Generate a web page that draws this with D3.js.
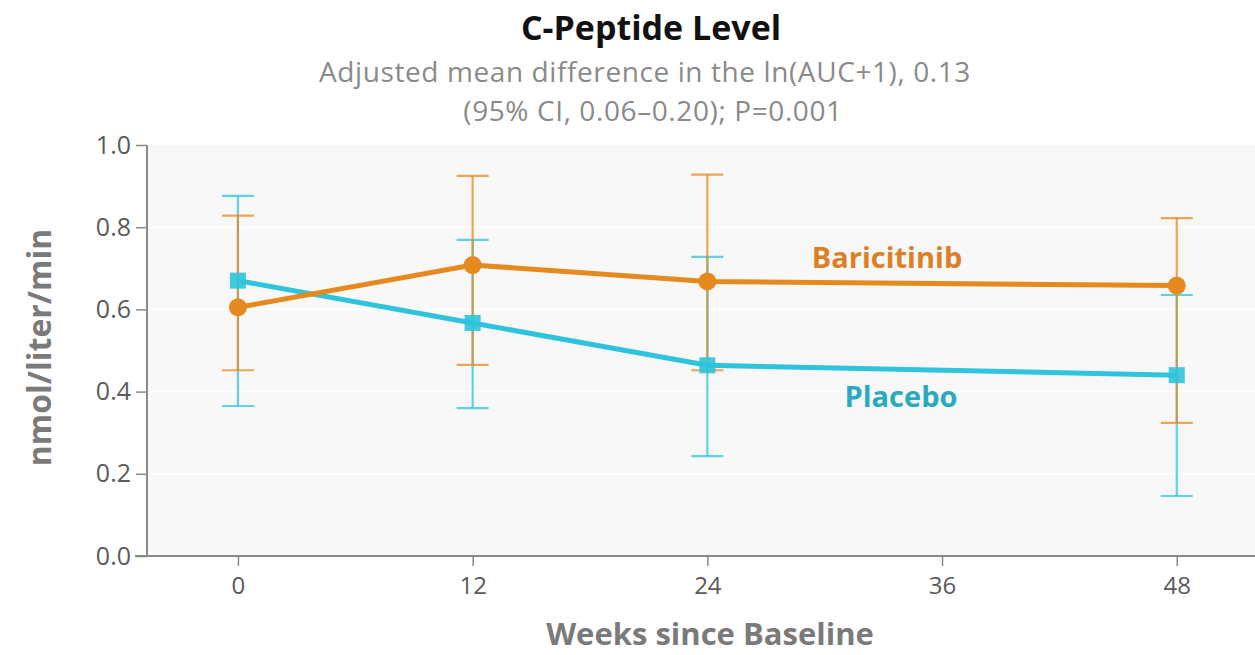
<!DOCTYPE html>
<html>
<head>
<meta charset="utf-8">
<script src="https://cdn.jsdelivr.net/npm/d3@7"></script>
<style>
  html, body { margin: 0; padding: 0; background: #fff; }
  svg { display: block; font-family: "Open Sans", Lato, sans-serif; }
</style>
</head>
<body>
<svg id="chart" width="1255" height="655"></svg>
<script>
// Visits (weeks since baseline)
const weeks = [0, 12, 24, 48];
const xTicks = [0, 12, 24, 36, 48];
const yTicks = [0, 0.2, 0.4, 0.6, 0.8, 1.0];

// C-peptide AUC, nmol/liter/min: mean with 95% CI
const bariMean = [0.605, 0.708, 0.668, 0.658];
const bariLow  = [0.452, 0.465, 0.452, 0.324];
const bariHigh = [0.828, 0.925, 0.928, 0.822];

const placMean = [0.670, 0.567, 0.464, 0.440];
const placLow  = [0.365, 0.360, 0.243, 0.146];
const placHigh = [0.876, 0.769, 0.728, 0.635];

const title = "C-Peptide Level";
const subtitle = ["Adjusted mean difference in the ln(AUC+1), 0.13", "(95% CI, 0.06\u20130.20); P=0.001"];
const yLabel = "nmol/liter/min";
const xLabel = "Weeks since Baseline";

const orange = "#e6891f";
const cyan = "#2fc3dc";

const svg = d3.select("#chart");
const plotL = 147, plotR = 1255, plotT = 145, plotB = 556;

const x = d3.scaleLinear().domain([-4.65, 52]).range([plotL, plotR]);
const y = d3.scaleLinear().domain([0, 1]).range([plotB, plotT]);

// plot background and faint gridlines
svg.append("rect")
  .attr("x", plotL).attr("y", plotT)
  .attr("width", plotR - plotL).attr("height", plotB - plotT)
  .attr("fill", "#f8f8f8");
svg.append("g").selectAll("line")
  .data(yTicks.filter(d => d > 0 && d < 1))
  .join("line")
  .attr("x1", plotL + 4).attr("x2", plotR)
  .attr("y1", d => y(d)).attr("y2", d => y(d))
  .attr("stroke", "#ffffff").attr("stroke-width", 2);

// axes
const yAxis = d3.axisLeft(y).tickValues(yTicks).tickFormat(d3.format(".1f")).tickSize(11).tickPadding(5);
const gy = svg.append("g").attr("transform", `translate(${plotL},0)`).call(yAxis);
gy.select(".domain").attr("stroke", "#8a8a8a").attr("stroke-width", 2).attr("d", `M0,${plotT}V${plotB}`);
gy.selectAll(".tick line").attr("stroke", "#8a8a8a").attr("stroke-width", 1.5);
gy.selectAll(".tick text").attr("fill", "#5a5a5a").style("font-size", "25px").style("font-family", "'Open Sans', sans-serif");

const xAxis = d3.axisBottom(x).tickValues(xTicks).tickSize(10).tickPadding(11);
const gx = svg.append("g").attr("transform", `translate(0,${plotB})`).call(xAxis);
gx.select(".domain").attr("stroke", "#8a8a8a").attr("stroke-width", 2).attr("d", `M${plotL - 12},0H${plotR}`);
gx.selectAll(".tick line").attr("stroke", "#8a8a8a").attr("stroke-width", 1.5);
gx.selectAll(".tick text").attr("fill", "#5a5a5a").style("font-size", "24px").style("font-family", "'Open Sans', sans-serif");

// error bars
function errorBars(low, high, color) {
  const g = svg.append("g").attr("stroke", color).attr("stroke-width", 2.2).attr("stroke-opacity", 0.75);
  const idx = d3.range(weeks.length);
  g.selectAll("line.v").data(idx).join("line").attr("class", "v")
    .attr("x1", i => x(weeks[i])).attr("x2", i => x(weeks[i]))
    .attr("y1", i => y(low[i])).attr("y2", i => y(high[i]));
  g.selectAll("line.lo").data(idx).join("line").attr("class", "lo")
    .attr("x1", i => x(weeks[i]) - 16).attr("x2", i => x(weeks[i]) + 16)
    .attr("y1", i => y(low[i])).attr("y2", i => y(low[i]));
  g.selectAll("line.hi").data(idx).join("line").attr("class", "hi")
    .attr("x1", i => x(weeks[i]) - 16).attr("x2", i => x(weeks[i]) + 16)
    .attr("y1", i => y(high[i])).attr("y2", i => y(high[i]));
}
errorBars(placLow, placHigh, cyan);
errorBars(bariLow, bariHigh, orange);

const line = d3.line().x((d, i) => x(weeks[i])).y(d => y(d));

// placebo line + square markers
svg.append("path").datum(placMean)
  .attr("d", line).attr("fill", "none")
  .attr("stroke", cyan).attr("stroke-width", 5);
svg.append("g").selectAll("rect").data(placMean).join("rect")
  .attr("x", (d, i) => x(weeks[i]) - 8).attr("y", d => y(d) - 8)
  .attr("width", 16).attr("height", 16)
  .attr("fill", cyan).attr("fill-opacity", 0.9);

// baricitinib line + circle markers
svg.append("path").datum(bariMean)
  .attr("d", line).attr("fill", "none")
  .attr("stroke", orange).attr("stroke-width", 5);
svg.append("g").selectAll("circle").data(bariMean).join("circle")
  .attr("cx", (d, i) => x(weeks[i])).attr("cy", d => y(d))
  .attr("r", 9).attr("fill", orange);

// series labels
svg.append("text").attr("x", 887).attr("y", 268).attr("text-anchor", "middle")
  .attr("fill", "#dd7f24").style("font-size", "29px").style("font-weight", 700)
  .text("Baricitinib");
svg.append("text").attr("x", 901).attr("y", 407).attr("text-anchor", "middle")
  .attr("fill", "#2aaabf").style("font-size", "29px").style("font-weight", 700)
  .text("Placebo");

// titles
svg.append("text").attr("x", 651).attr("y", 40).attr("text-anchor", "middle")
  .attr("fill", "#111").style("font-size", "34px").style("font-weight", 700)
  .text(title);
subtitle.forEach((s, i) => {
  svg.append("text").attr("x", i === 0 ? 645 : 653).attr("y", 82 + i * 38.5)
    .attr("text-anchor", "middle")
    .attr("fill", "#8a8a8a").style("font-size", "28px").style("letter-spacing", "0.6px")
    .text(s);
});

svg.append("text")
  .attr("transform", `translate(51,${(plotT + plotB) / 2 - 3}) rotate(-90)`)
  .attr("text-anchor", "middle")
  .attr("fill", "#7a7a7a").style("font-size", "32px").style("font-weight", 700)
  .text(yLabel);
svg.append("text").attr("x", 710).attr("y", 645).attr("text-anchor", "middle")
  .attr("fill", "#7a7a7a").style("font-size", "31px").style("font-weight", 700)
  .text(xLabel);
</script>
</body>
</html>
